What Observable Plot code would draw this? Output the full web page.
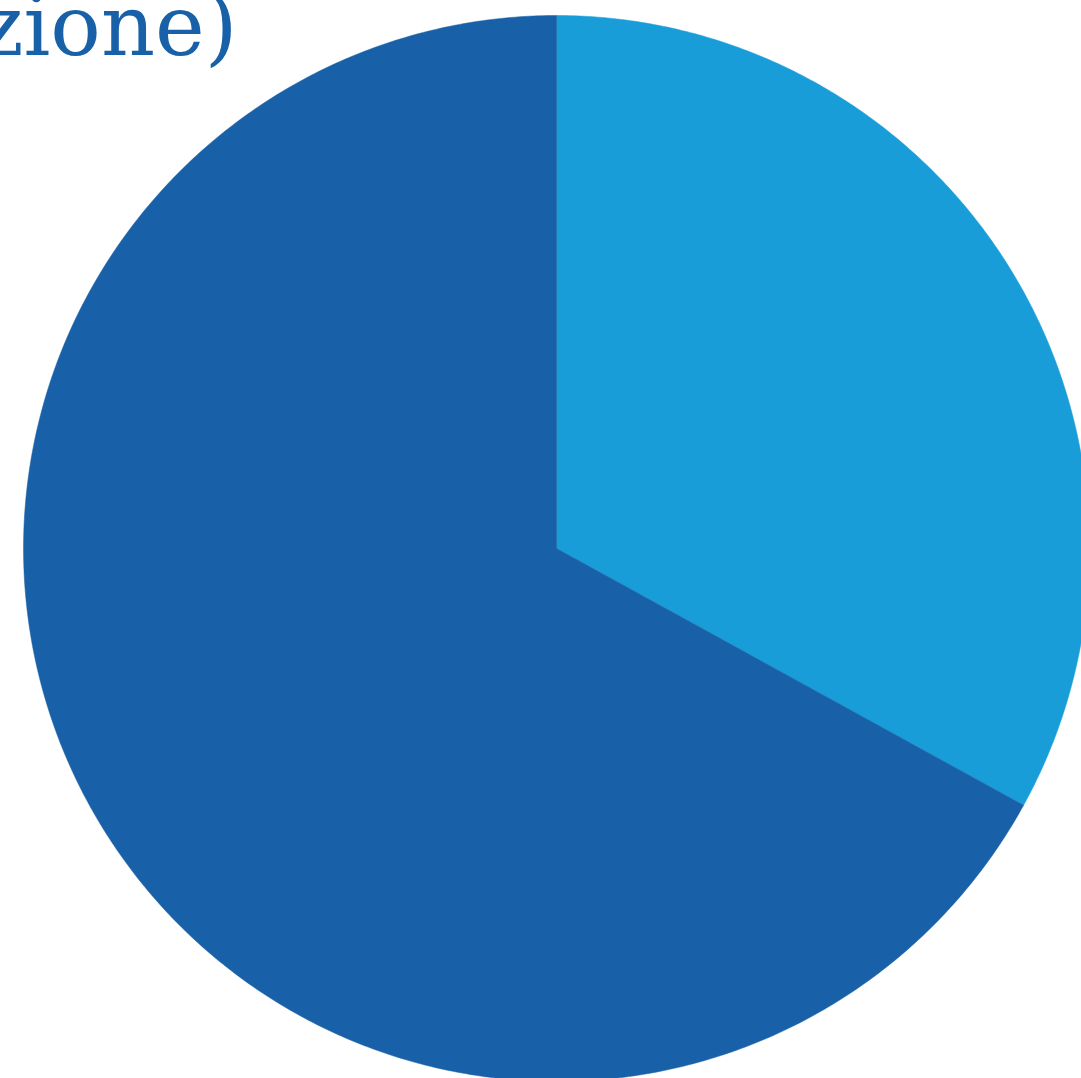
<!DOCTYPE html>
<html>
<head>
<meta charset="utf-8">
<script src="https://cdn.jsdelivr.net/npm/d3@7"></script>
<script src="https://cdn.jsdelivr.net/npm/@observablehq/plot@0.6"></script>
<style>
  html, body { margin: 0; padding: 0; background: #ffffff; overflow: hidden; }
  #chart svg { display: block; }
</style>
</head>
<body>
<div id="chart"></div>
<script>
const categories = ["A", "B"];
const values = [33, 67];
const colors = ["#189dd9", "#1860a7"];
const titleText = "zione)";

const pie = d3.pie().sort(null).value(d => d.value);
const arcs = pie(categories.map((c, i) => ({category: c, value: values[i]})));

const pts = [];
for (const a of arcs) {
  const n = Math.max(2, Math.ceil((a.endAngle - a.startAngle) / (2 * Math.PI) * 720));
  pts.push({category: a.data.category, x: 0, y: 0});
  for (let k = 0; k <= n; k++) {
    const t = a.startAngle + (a.endAngle - a.startAngle) * k / n;
    pts.push({category: a.data.category, x: Math.sin(t), y: Math.cos(t)});
  }
  pts.push({category: a.data.category, x: 0, y: 0});
}

const chart = Plot.plot({
  width: 1081,
  height: 1078,
  margin: 0,
  x: {domain: [-1.0432, 0.98499], axis: null},
  y: {domain: [-0.99437, 1.02814], axis: null},
  color: {domain: categories, range: colors},
  marks: [
    Plot.line(pts, {x: "x", y: "y", z: "category", fill: "category", stroke: "category", strokeWidth: 0.5, curve: "linear"}),
    Plot.text([titleText], {
      frameAnchor: "top-left", text: d => d, textAnchor: "end", lineAnchor: "bottom",
      dx: 237, dy: 54, fontSize: 84, fontFamily: "DejaVu Serif", fontWeight: 300, fill: "#1860a7"
    })
  ]
});
document.getElementById("chart").appendChild(chart);
</script>
</body>
</html>
